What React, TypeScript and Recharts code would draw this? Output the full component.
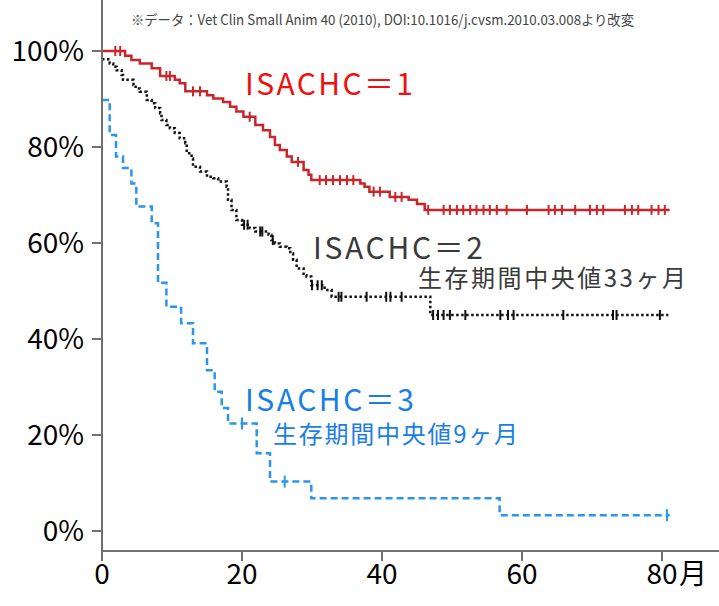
import { ComposedChart, Line, Scatter, XAxis, YAxis } from 'recharts';

// Kaplan-Meier steps (months, survival %)
const g1Times = [0, 3.3, 4.2, 5.4, 7.1, 8.3, 10.4, 11.1, 11.9, 15.0, 15.9, 17.3, 18.3, 19.2, 20.2, 21.9, 23.0, 24.0, 24.7, 25.4, 26.4, 27.1, 28.8, 29.5, 29.9, 36.9, 37.5, 38.2, 41.1, 43.8, 45.0, 46.1, 81.1];
const g1Surv = [100, 99, 98.1, 97.4, 96.4, 94.8, 94.0, 93.3, 91.6, 90.8, 90.1, 89.4, 88.4, 87.4, 86.3, 84.6, 83.5, 82.1, 80.4, 79.4, 78.0, 76.9, 75.2, 74.2, 73.1, 72.4, 71.7, 70.7, 69.6, 69.0, 68.1, 66.9, 66.9];
const g1Censor = [1.9, 2.6, 9.2, 9.7, 13.0, 14.0, 21.1, 28.0, 31.1, 32.0, 33.0, 34.0, 35.0, 35.9, 38.8, 39.7, 41.9, 42.8, 46.6, 48.8, 49.7, 50.7, 51.6, 52.6, 53.5, 54.5, 55.4, 56.4, 57.8, 60.7, 63.8, 64.7, 65.7, 67.6, 69.7, 70.7, 71.6, 74.7, 75.7, 76.6, 78.5, 79.5, 80.4];

const g2Times = [0, 1.1, 1.6, 2.1, 2.8, 3.0, 4.5, 4.8, 5.4, 6.4, 7.1, 7.6, 8.3, 8.5, 9.2, 9.7, 10.4, 11.1, 11.9, 12.1, 12.8, 13.0, 14.0, 15.0, 15.9, 16.6, 17.8, 18.0, 18.5, 19.2, 20.0, 21.1, 21.9, 23.8, 24.2, 24.7, 25.4, 26.4, 26.9, 27.3, 27.8, 28.8, 29.2, 29.9, 31.8, 32.8, 46.9, 80.9];
const g2Surv = [98.3, 97.4, 96.7, 96.0, 95.0, 94.0, 92.9, 92.2, 91.5, 89.8, 89.1, 88.1, 87.0, 85.6, 84.6, 83.9, 82.9, 81.8, 80.8, 78.7, 77.6, 75.9, 74.9, 73.8, 73.5, 72.8, 71.7, 69.0, 66.9, 64.8, 63.8, 63.1, 62.4, 61.7, 60.6, 59.9, 59.2, 58.9, 57.8, 56.5, 54.7, 53.3, 53.0, 51.2, 50.2, 48.8, 45.0, 45.0];
const g2Censor = [20.3, 20.8, 22.6, 22.9, 24.4, 30.0, 30.8, 31.4, 33.8, 34.2, 37.8, 40.6, 41.2, 42.8, 47.3, 48.0, 48.8, 49.7, 51.9, 56.9, 58.0, 58.8, 65.9, 73.0, 73.5, 79.7];

const g3Times = [0, 1.1, 2.0, 3.0, 4.2, 4.9, 7.1, 8.0, 9.2, 11.3, 13.0, 15.0, 16.1, 17.1, 18.0, 22.1, 24.0, 29.9, 56.8, 81.1];
const g3Surv = [89.8, 82.5, 78.0, 75.6, 72.4, 67.6, 64.1, 51.7, 46.7, 43.3, 39.1, 33.5, 29.0, 25.6, 22.4, 16.2, 10.3, 6.8, 3.3, 3.3];
const g3Censor = [20.0, 26.1, 80.7];

const xTicks = [0, 20, 40, 60, 80];
const yTicks = [0, 20, 40, 60, 80, 100];

const FONT = '"Noto Sans CJK JP", "Noto Sans", sans-serif';

const steps = (times: number[], surv: number[]) => times.map((t, i) => ({ t, s: surv[i] }));

const censored = (times: number[], surv: number[], cens: number[]) =>
  cens.map((c) => {
    let s = surv[0];
    for (let i = 0; i < times.length; i++) if (times[i] <= c) s = surv[i];
    return { t: c, s };
  });

const censorMark = (color: string, half: number) => (props: any) => (
  <line x1={props.cx} x2={props.cx} y1={props.cy - half} y2={props.cy + half} stroke={color} strokeWidth={2} />
);

const XTick = (props: any) => {
  const { x, y, payload } = props;
  if (payload.value === 80) {
    return (
      <g fontFamily={FONT} fontSize={28} fill="#000">
        <text x={x} y={y} dy="0.71em" textAnchor="middle">80</text>
        <text x={x + 17} y={y} dy="0.71em" textAnchor="start">月</text>
      </g>
    );
  }
  return (
    <text x={x} y={y} dy="0.71em" textAnchor="middle" fontFamily={FONT} fontSize={28} fill="#000">
      {payload.value}
    </text>
  );
};

export default function App() {
  const axisStroke = { stroke: '#707070', strokeWidth: 2 };
  return (
    <div style={{ position: 'absolute', left: 0, top: 0, width: 719, height: 606, background: '#fff' }}>
      <ComposedChart width={719} height={606} margin={{ top: 0, right: 0, bottom: 0, left: 0 }}>
        <XAxis
          type="number"
          dataKey="t"
          domain={[0, 88.14]}
          ticks={xTicks}
          allowDataOverflow
          height={55}
          tickSize={10}
          tickMargin={3}
          axisLine={axisStroke}
          tickLine={axisStroke}
          tick={<XTick />}
        />
        <YAxis
          type="number"
          domain={[-4.1667, 110.625]}
          ticks={yTicks}
          allowDataOverflow
          width={102}
          tickSize={10}
          tickMargin={8}
          axisLine={axisStroke}
          tickLine={axisStroke}
          tickFormatter={(v: number) => `${v}%`}
          tick={{ fontSize: 28, fill: '#000', fontFamily: FONT }}
        />
        <Line data={steps(g3Times, g3Surv)} dataKey="s" type="stepAfter" stroke="#2a95ee" strokeWidth={2.5} strokeDasharray="7 4" dot={false} isAnimationActive={false} />
        <Line data={steps(g2Times, g2Surv)} dataKey="s" type="stepAfter" stroke="#111" strokeWidth={2.5} strokeDasharray="2.5 2.5" dot={false} isAnimationActive={false} />
        <Line data={steps(g1Times, g1Surv)} dataKey="s" type="stepAfter" stroke="#c8262b" strokeWidth={2.5} dot={false} isAnimationActive={false} />
        <Scatter data={censored(g3Times, g3Surv, g3Censor)} dataKey="s" shape={censorMark('#2a95ee', 6)} isAnimationActive={false} />
        <Scatter data={censored(g2Times, g2Surv, g2Censor)} dataKey="s" shape={censorMark('#111', 5)} isAnimationActive={false} />
        <Scatter data={censored(g1Times, g1Surv, g1Censor)} dataKey="s" shape={censorMark('#c8262b', 5)} isAnimationActive={false} />
      </ComposedChart>
      <svg width={719} height={606} style={{ position: 'absolute', left: 0, top: 0, pointerEvents: 'none' }} fontFamily={FONT}>
        <text x={131} y={25} fontSize={14} fill="#444" textLength={503} lengthAdjust="spacingAndGlyphs">
          ※データ：Vet Clin Small Anim 40 (2010), DOI:10.1016/j.cvsm.2010.03.008より改変
        </text>
        <text x={245} y={95} fontSize={30} fill="#f01010" textLength={168} lengthAdjust="spacing">ISACHC＝1</text>
        <text x={313} y={259} fontSize={30} fill="#3a3a3a" textLength={170} lengthAdjust="spacing">ISACHC＝2</text>
        <text x={418} y={287} fontSize={24} fill="#3a3a3a" textLength={268} lengthAdjust="spacing">生存期間中央値33ヶ月</text>
        <text x={245} y={411} fontSize={30} fill="#1a7ee6" textLength={169} lengthAdjust="spacing">ISACHC＝3</text>
        <text x={273} y={443} fontSize={24} fill="#1a7ee6" textLength={245} lengthAdjust="spacing">生存期間中央値9ヶ月</text>
      </svg>
    </div>
  );
}
